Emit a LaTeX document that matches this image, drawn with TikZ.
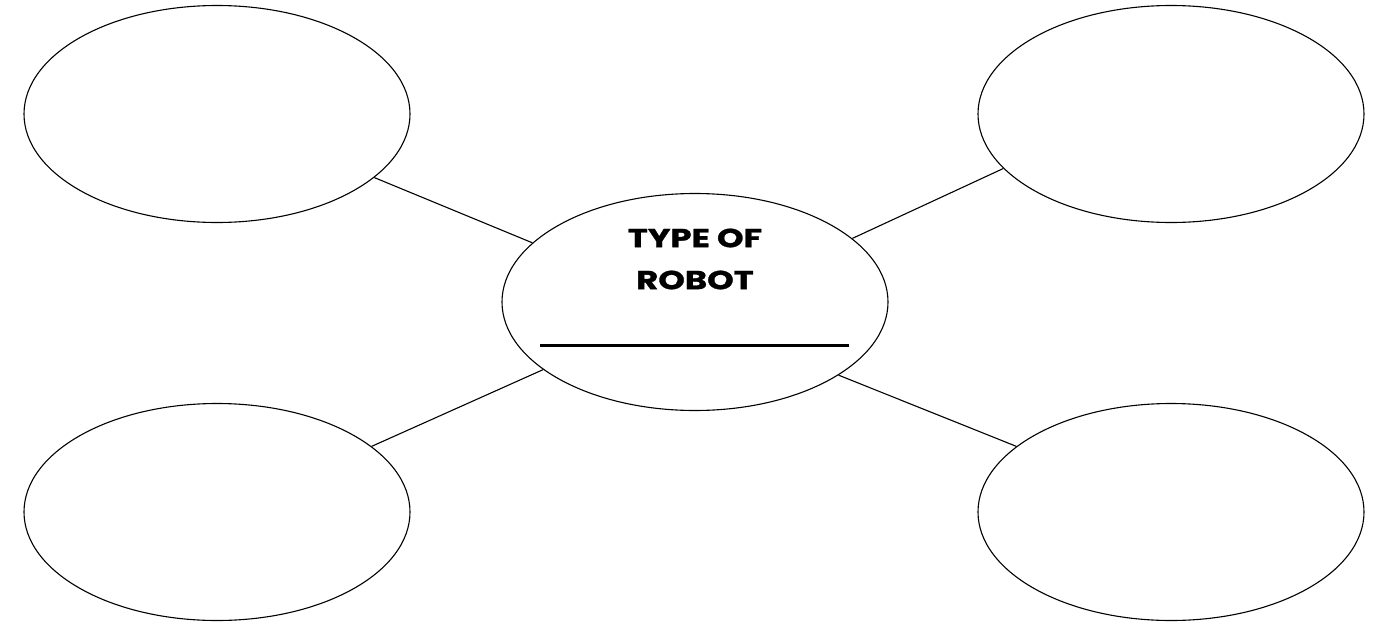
\documentclass[tikz,border=0pt]{standalone}
\usepackage{fontspec}
\setmainfont{Poppins}[BoldFeatures={FakeStretch=1.3,FakeBold=1.2}]
\usetikzlibrary{shapes.geometric}
\begin{document}
\begin{tikzpicture}[x=1pt,y=-1pt,
  bubble/.style={draw=black,line width=1.1pt,ellipse,minimum width=386pt,minimum height=217pt,inner sep=0pt},
  link/.style={draw=black,line width=1.1pt},
  title/.style={font=\fontsize{26}{42}\selectfont\bfseries,align=center,inner sep=0pt}]
\useasboundingbox (0,0) rectangle (1382,624);
\node[bubble] (tl) at (217,114) {};
\node[bubble] (tr) at (1171,114) {};
\node[bubble] (bl) at (217,512) {};
\node[bubble] (br) at (1171,512) {};
\node[bubble] (c) at (695,302) {};
\draw[link] (tl.338.4) -- (c.160);
\draw[link] (tr.198.7) -- (c.22.75);
\draw[link] (bl.23.2) -- (c.204.6);
\draw[link] (br.157.5) -- (c.333);
\node[title] (t) at (695,259) {TYPE OF\\ROBOT};
\coordinate (u1) at (540,345.7);
\coordinate (u2) at (849,345.7);
\draw[line width=3pt] (u1) -- (u2);
\end{tikzpicture}
\end{document}
